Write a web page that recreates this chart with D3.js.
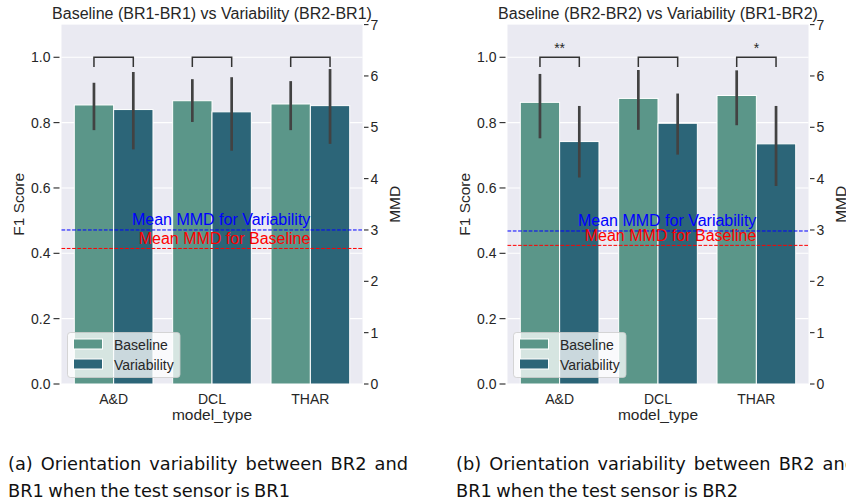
<!DOCTYPE html>
<html>
<head>
<meta charset="utf-8">
<script src="https://cdn.jsdelivr.net/npm/d3@7"></script>
<style>
  html, body { margin: 0; padding: 0; background: #ffffff; }
  svg { display: block; }
  .cap { font-family: "DejaVu Sans", sans-serif; }
</style>
</head>
<body>
<div id="chart"></div>
<script>
// ---------------- data ----------------
const categories = ["A&D", "DCL", "THAR"];
const seriesNames = ["Baseline", "Variability"];
const f1Ticks = [0.0, 0.2, 0.4, 0.6, 0.8, 1.0];
const mmdTicks = [0, 1, 2, 3, 4, 5, 6, 7];

// panel (a)
const titleA = "Baseline (BR1-BR1) vs Variability (BR2-BR1)";
const baselineA = [0.854, 0.867, 0.857];
const baselineA_lo = [0.777, 0.802, 0.777];
const baselineA_hi = [0.922, 0.933, 0.927];
const variabilityA = [0.840, 0.833, 0.852];
const variabilityA_lo = [0.718, 0.714, 0.735];
const variabilityA_hi = [0.955, 0.939, 0.964];
const mmdVariabilityA = 3.00;
const mmdBaselineA = 2.64;
const signifA = ["", "", ""];
const captionA = ["(a) Orientation variability between BR2 and", "BR1 when the test sensor is BR1"];

// panel (b)
const titleB = "Baseline (BR2-BR2) vs Variability (BR1-BR2)";
const baselineB = [0.862, 0.874, 0.883];
const baselineB_lo = [0.752, 0.778, 0.792];
const baselineB_hi = [0.949, 0.961, 0.960];
const variabilityB = [0.742, 0.798, 0.735];
const variabilityB_lo = [0.632, 0.702, 0.606];
const variabilityB_hi = [0.851, 0.889, 0.851];
const mmdVariabilityB = 2.98;
const mmdBaselineB = 2.70;
const signifB = ["**", "", "*"];
const captionB = ["(b) Orientation variability between BR2 and", "BR1 when the test sensor is BR2"];

// ---------------- drawing ----------------
const W = 846, H = 504;
const svg = d3.select("#chart").append("svg").attr("width", W).attr("height", H);

const colors = { Baseline: "#5b9689", Variability: "#2c6578" };
const textColor = "#262626";
const chartFont = "'Liberation Sans', Arial, sans-serif";

function panel(x0, cfg) {
  const x1 = x0 + 301;
  const yTop = 24.6, yBot = 384;
  const g = svg.append("g");

  const x = d3.scaleLinear().domain([-0.53, 2.53]).range([x0, x1]);
  const y = d3.scaleLinear().domain([0, 1.1]).range([yBot, yTop]);
  const y2 = d3.scaleLinear().domain([0, 7]).range([yBot, yTop]);

  // background
  g.append("rect").attr("x", x0).attr("y", yTop).attr("width", x1 - x0).attr("height", yBot - yTop)
    .attr("fill", "#eaeaf2");

  // grid
  g.selectAll(".gy").data(f1Ticks).join("line")
    .attr("x1", x0).attr("x2", x1).attr("y1", d => y(d)).attr("y2", d => y(d))
    .attr("stroke", "#ffffff").attr("stroke-width", 1.1);

  // bars
  const rows = [];
  categories.forEach((c, i) => {
    rows.push({ i, s: "Baseline", v: cfg.base[i], lo: cfg.baseLo[i], hi: cfg.baseHi[i], off: -0.4 });
    rows.push({ i, s: "Variability", v: cfg.vari[i], lo: cfg.variLo[i], hi: cfg.variHi[i], off: 0 });
  });
  g.selectAll(".bar").data(rows).join("rect")
    .attr("x", d => x(d.i + d.off)).attr("width", d => x(d.i + d.off + 0.4) - x(d.i + d.off))
    .attr("y", d => y(d.v)).attr("height", d => y(0) - y(d.v))
    .attr("fill", d => colors[d.s]).attr("stroke", "#ffffff").attr("stroke-width", 1);

  // error bars
  g.selectAll(".err").data(rows).join("line")
    .attr("x1", d => x(d.i + d.off + 0.2)).attr("x2", d => x(d.i + d.off + 0.2))
    .attr("y1", d => y(d.lo)).attr("y2", d => y(d.hi))
    .attr("stroke", "#424242").attr("stroke-width", 2.7);

  // significance brackets
  categories.forEach((c, i) => {
    const xa = x(i - 0.2), xb = x(i + 0.2);
    g.append("path")
      .attr("d", `M${xa},${y(0.97)}V${y(1.0)}H${xb}V${y(0.97)}`)
      .attr("fill", "none").attr("stroke", "#333333").attr("stroke-width", 1.5);
    if (cfg.signif[i]) {
      g.append("text").attr("x", x(i)).attr("y", y(1.0) - 4.5)
        .attr("text-anchor", "middle").attr("font-family", chartFont).attr("font-size", 14)
        .attr("fill", textColor).text(cfg.signif[i]);
    }
  });

  // MMD reference lines
  const mmd = [
    { v: cfg.mmdVar, c: "#0000ff", label: "Mean MMD for Variability", dy: -5 },
    { v: cfg.mmdBase, c: "#ff0000", label: "Mean MMD for Baseline", dy: -4.2 }
  ];
  mmd.forEach(m => {
    g.append("line").attr("x1", x0).attr("x2", x1).attr("y1", y2(m.v)).attr("y2", y2(m.v))
      .attr("stroke", m.c).attr("stroke-width", 1).attr("stroke-dasharray", "3.7,1.6");
  });
  mmd.forEach(m => {
    g.append("text").attr("x", x(2)).attr("y", y2(m.v) + m.dy)
      .attr("text-anchor", "end").attr("font-family", chartFont).attr("font-size", 16)
      .attr("fill", m.c).text(m.label);
  });

  // left axis
  const fmt = d3.format(".1f");
  f1Ticks.forEach(t => {
    g.append("line").attr("x1", x0 - 8).attr("x2", x0 - 2).attr("y1", y(t)).attr("y2", y(t))
      .attr("stroke", textColor).attr("stroke-width", 1.1);
    g.append("text").attr("x", x0 - 11).attr("y", y(t)).attr("dy", "0.36em")
      .attr("text-anchor", "end").attr("font-family", chartFont).attr("font-size", 14)
      .attr("fill", textColor).text(fmt(t));
  });
  // right axis
  mmdTicks.forEach(t => {
    g.append("line").attr("x1", x1 + 1.5).attr("x2", x1 + 6).attr("y1", y2(t)).attr("y2", y2(t))
      .attr("stroke", textColor).attr("stroke-width", 1.1);
    g.append("text").attr("x", x1 + 8).attr("y", y2(t)).attr("dy", "0.36em")
      .attr("text-anchor", "start").attr("font-family", chartFont).attr("font-size", 14)
      .attr("fill", textColor).text(t);
  });
  // x tick labels
  categories.forEach((c, i) => {
    g.append("text").attr("x", x(i)).attr("y", 404)
      .attr("text-anchor", "middle").attr("font-family", chartFont).attr("font-size", 14)
      .attr("fill", textColor).text(c);
  });
  // axis labels
  g.append("text").attr("x", (x0 + x1) / 2).attr("y", 419.5)
    .attr("text-anchor", "middle").attr("font-family", chartFont).attr("font-size", 15.5)
    .attr("fill", textColor).text("model_type");
  g.append("text").attr("transform", `translate(${x0 - 37.5},${(yTop + yBot) / 2}) rotate(-90)`)
    .attr("text-anchor", "middle").attr("font-family", chartFont).attr("font-size", 15.5)
    .attr("fill", textColor).text("F1 Score");
  g.append("text").attr("transform", `translate(${x1 + 37.5},${(yTop + yBot) / 2}) rotate(-90)`)
    .attr("text-anchor", "middle").attr("font-family", chartFont).attr("font-size", 15.5)
    .attr("fill", textColor).text("MMD");

  // title
  g.append("text").attr("x", (x0 + x1) / 2).attr("y", 18.5)
    .attr("text-anchor", "middle").attr("font-family", chartFont).attr("font-size", 16)
    .attr("fill", textColor).text(cfg.title);

  // legend
  const lg = g.append("g").attr("transform", `translate(${x0 + 6},332.5)`);
  lg.append("rect").attr("x", 0).attr("y", 0).attr("width", 112.5).attr("height", 45).attr("rx", 3)
    .attr("fill", "#ffffff").attr("fill-opacity", 0.75).attr("stroke", "#cccccc").attr("stroke-opacity", 0.8);
  seriesNames.forEach((s, k) => {
    lg.append("rect").attr("x", 6).attr("y", 6.5 + k * 20).attr("width", 29).attr("height", 10)
      .attr("fill", colors[s]).attr("stroke", "#ffffff").attr("stroke-width", 1);
    lg.append("text").attr("x", 46.5).attr("y", 17 + k * 20)
      .attr("font-family", chartFont).attr("font-size", 14).attr("fill", textColor).text(s);
  });

  // caption: size the font so line 1 nearly fills its width, then justify with word spacing
  const widths = [400, 282];
  const probe = svg.append("text").attr("class", "cap").attr("font-size", 16).text(cfg.caption[0]);
  const nat0 = probe.node().getComputedTextLength();
  probe.remove();
  const fs = Math.max(14, Math.min(19, 16 * (388 / nat0)));
  cfg.caption.forEach((line, k) => {
    const t = svg.append("text").attr("class", "cap").attr("x", cfg.capX).attr("y", 470 + k * 26.5)
      .attr("font-size", fs).attr("fill", "#111111").text(line);
    const natural = t.node().getComputedTextLength();
    const spaces = (line.match(/ /g) || []).length;
    if (spaces > 0) {
      const ws = Math.max(-1.5, Math.min(6, (widths[k] - natural) / spaces));
      t.attr("word-spacing", ws);
    }
  });
}

panel(61.5, {
  title: titleA, base: baselineA, baseLo: baselineA_lo, baseHi: baselineA_hi,
  vari: variabilityA, variLo: variabilityA_lo, variHi: variabilityA_hi,
  mmdVar: mmdVariabilityA, mmdBase: mmdBaselineA, signif: signifA, caption: captionA, capX: 8
});
panel(507.5, {
  title: titleB, base: baselineB, baseLo: baselineB_lo, baseHi: baselineB_hi,
  vari: variabilityB, variLo: variabilityB_lo, variHi: variabilityB_hi,
  mmdVar: mmdVariabilityB, mmdBase: mmdBaselineB, signif: signifB, caption: captionB, capX: 456
});
</script>
</body>
</html>
